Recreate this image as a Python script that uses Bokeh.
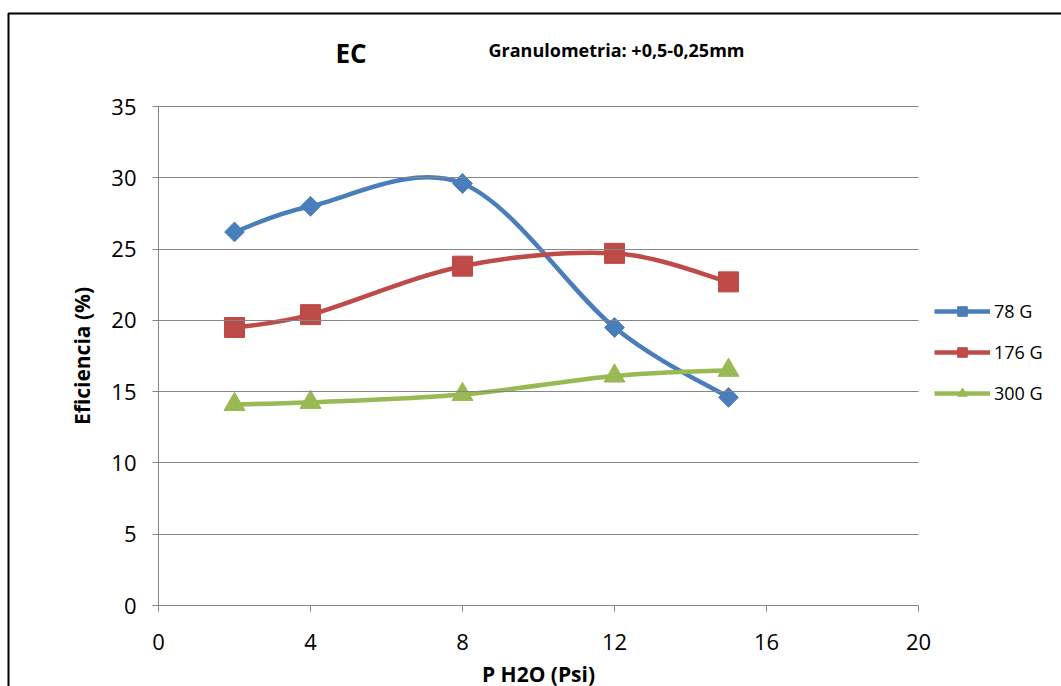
import numpy as np
from bokeh.plotting import figure
from bokeh.models import (Range1d, FixedTicker, Legend, LegendItem, Label,
                          BoxAnnotation, ColumnDataSource)
from bokeh.embed import file_html
from bokeh.resources import INLINE

# ---- data ----
pressure = [2, 4, 8, 12, 15]
ef_78 = [26.2, 28.0, 29.6, 19.5, 14.6]
ef_176 = [19.5, 20.4, 23.8, 24.7, 22.7]
ef_300 = [14.1, 14.25, 14.8, 16.1, 16.5]
series_names = ["78 G", "176 G", "300 G"]
x_ticks = [0, 4, 8, 12, 16, 20]
y_ticks = [0, 5, 10, 15, 20, 25, 30, 35]
x_lim = (0, 20)
y_lim = (0, 35)
title_text = "EC"
subtitle_text = "Granulometria: +0,5-0,25mm"
x_label = "P H2O (Psi)"
y_label = "Eficiencia (%)"

colors = ["#4A7EBB", "#BE4B48", "#98B954"]
FONT = "Open Sans"

# ---- layout (pixels) ----
W, H = 1061, 686
PL, PR, PT, PB = 158, 918, 106, 605          # plot area edges in the canvas
sx = (PR - PL) / (x_lim[1] - x_lim[0])       # px per x unit
sy = (PB - PT) / (y_lim[1] - y_lim[0])       # px per y unit


def dx(px):
    return x_lim[0] + (px - PL) / sx


def dy(py):
    return y_lim[0] + (PB - py) / sy


def bezier_segments(xs, ys):
    """Excel-like smoothed line: cubic Bezier segments through the data points."""
    x = np.asarray(xs, float)
    y = np.asarray(ys, float)
    n = len(x)
    xp = np.concatenate([[x[0]], x, [x[-1]]])
    yp = np.concatenate([[y[0]], y, [y[-1]]])
    cx0 = x[:-1] + (xp[2:n + 1] - xp[0:n - 1]) / 6.0
    cy0 = y[:-1] + (yp[2:n + 1] - yp[0:n - 1]) / 6.0
    cx1 = x[1:] - (xp[3:n + 2] - xp[1:n]) / 6.0
    cy1 = y[1:] - (yp[3:n + 2] - yp[1:n]) / 6.0
    return dict(x0=x[:-1], y0=y[:-1], x1=x[1:], y1=y[1:],
                cx0=cx0, cy0=cy0, cx1=cx1, cy1=cy1)


p = figure(width=W, height=H,
           x_range=Range1d(dx(0), dx(W)), y_range=Range1d(dy(H), dy(0)),
           output_backend="svg", toolbar_location=None,
           min_border=0, min_border_left=0, min_border_right=0,
           min_border_top=0, min_border_bottom=0,
           background_fill_color="white", border_fill_color="white")
p.outline_line_color = None
p.xgrid.visible = False
p.ygrid.visible = False

# axes fixed at the data origin (they take no panel space)
for ax in (p.xaxis[0], p.yaxis[0]):
    ax.fixed_location = 0
    ax.axis_line_color = "#868686"
    ax.axis_line_width = 1
    ax.major_tick_line_color = "#868686"
    ax.major_tick_line_width = 1
    ax.major_tick_out = 6
    ax.major_tick_in = 0
    ax.minor_tick_line_color = None
    ax.major_label_text_font = FONT
    ax.major_label_text_font_size = "22px"
    ax.major_label_text_color = "black"
    ax.axis_label_text_font = FONT
    ax.axis_label_text_font_size = "21px"
    ax.axis_label_text_font_style = "bold"
    ax.axis_label_text_color = "black"

p.xaxis.bounds = x_lim
p.yaxis.bounds = y_lim
p.xaxis.ticker = FixedTicker(ticks=x_ticks)
p.yaxis.ticker = FixedTicker(ticks=y_ticks)
p.xaxis.axis_label = x_label
p.yaxis.axis_label = y_label
p.xaxis.major_label_standoff = 22
p.yaxis.major_label_standoff = 16
p.xaxis.axis_label_standoff = 7
p.yaxis.axis_label_standoff = 12
# horizontal gridlines: the y ticks extended across the plot area
p.yaxis.major_tick_in = PR - PL

markers = [dict(marker="square", angle=np.pi / 4, size=14),
           dict(marker="square", angle=0, size=20),
           dict(marker="triangle", angle=0, size=21)]

items = []
for name, ys, col, mk in zip(series_names, [ef_78, ef_176, ef_300], colors, markers):
    seg = ColumnDataSource(bezier_segments(pressure, ys))
    br = p.bezier(x0="x0", y0="y0", x1="x1", y1="y1", cx0="cx0", cy0="cy0",
                  cx1="cx1", cy1="cy1", source=seg, line_color=col, line_width=4.5)
    sr = p.scatter(pressure, ys, marker=mk["marker"], angle=mk["angle"],
                   size=mk["size"], fill_color=col, line_color=col, line_width=1)
    items.append(LegendItem(label=name, renderers=[br, sr]))

legend = Legend(items=items, location=(934, H - 405),
                glyph_width=56, glyph_height=24, label_standoff=4,
                spacing=17, padding=10, margin=0,
                label_text_font=FONT, label_text_font_size="18px",
                label_text_color="black",
                border_line_color=None, background_fill_alpha=0)
p.add_layout(legend, "center")

# titles
p.add_layout(Label(x=dx(335), y=dy(52), text=title_text, text_font=FONT,
                   text_font_size="26px", text_font_style="bold",
                   text_align="left", text_baseline="alphabetic", text_color="black"))
p.add_layout(Label(x=dx(488), y=dy(49), text=subtitle_text, text_font=FONT,
                   text_font_size="18px", text_font_style="bold",
                   text_align="left", text_baseline="alphabetic", text_color="black"))

# chart border (runs off the right and bottom of the picture)
p.add_layout(BoxAnnotation(left=dx(8), right=dx(W + 20), top=dy(13), bottom=dy(H + 20),
                           fill_color=None, fill_alpha=0,
                           line_color="black", line_alpha=1, line_width=2))

open("out.html", "w").write(file_html(p, INLINE))
